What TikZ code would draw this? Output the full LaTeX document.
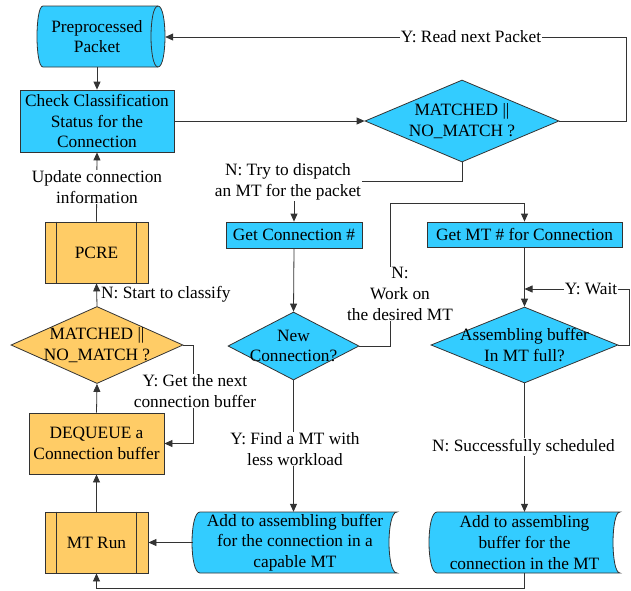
\documentclass[tikz,border=0pt]{standalone}
\usepackage{fontspec}
\setmainfont{Liberation Serif}
\usetikzlibrary{arrows.meta,shapes.geometric}
\definecolor{cyanF}{HTML}{33CCFF}
\definecolor{orngF}{HTML}{FFCC66}
\definecolor{lineC}{HTML}{333333}
\begin{document}
\begin{tikzpicture}[x=1pt,y=-1pt,
  every node/.style={font=\fontsize{17.3}{20.7}\selectfont},
  box/.style={draw=lineC,line width=0.8pt,rectangle,inner sep=0pt,align=center},
  cbox/.style={box,fill=cyanF},
  obox/.style={box,fill=orngF},
  dmd/.style={draw=lineC,line width=0.8pt,diamond,inner sep=0pt},
  shp/.style={draw=lineC,line width=0.8pt},
  ln/.style={draw=lineC,line width=0.8pt},
  arr/.style={draw=lineC,line width=0.8pt,-{Triangle[length=8pt,width=7pt]}},
  lbl/.style={fill=white,inner sep=1pt,align=center},
  plain/.style={inner sep=0pt,align=center}]
\useasboundingbox (0,0) rectangle (631,590);

% cylinder (stored data)
\draw[shp,fill=cyanF] (43,6) -- (158,6) .. controls (167.33,6) and (167.33,67) .. (158,67)
  -- (43,67) .. controls (35,67) and (35,6) .. (43,6) -- cycle;
\draw[ln] (158,6) .. controls (148.67,6) and (148.67,67) .. (158,67);
\node[plain,minimum width=136,minimum height=61] (pp) at (97,36.5) {Preprocessed\\Packet};

% tapes
\draw[shp,fill=cyanF] (200,512) -- (397,512) .. controls (386.33,512) and (386.33,573) .. (397,573)
  -- (200,573) .. controls (189.33,573) and (189.33,512) .. (200,512) -- cycle;
\node[plain,minimum width=204,minimum height=61] (tapeL) at (295,542.5) {Add to assembling buffer\\for the connection in a\\capable MT};
\draw[shp,fill=cyanF] (437,512) -- (620,512) .. controls (610.67,512) and (610.67,573) .. (620,573)
  -- (437,573) .. controls (426.33,573) and (426.33,512) .. (437,512) -- cycle;
\node[plain,minimum width=191,minimum height=61] (tapeR) at (524.5,542.5) {Add to assembling\\buffer for the\\connection in the MT};

% boxes
\node[cbox,minimum width=154,minimum height=62] (check) at (97,121) {Check Classification\\Status for the\\Connection};
\node[obox,minimum width=103,minimum height=61] (pcre) at (96.5,252.5) {PCRE};
\draw[ln] ([xshift=12pt]pcre.north west) -- ([xshift=12pt]pcre.south west);
\draw[ln] ([xshift=-12pt]pcre.north east) -- ([xshift=-12pt]pcre.south east);
\node[obox,minimum width=135,minimum height=61] (deq) at (96.5,443.5) {DEQUEUE a\\Connection buffer};
\node[obox,minimum width=103,minimum height=61] (mtrun) at (96.5,542.5) {MT Run};
\draw[ln] ([xshift=12pt]mtrun.north west) -- ([xshift=12pt]mtrun.south west);
\draw[ln] ([xshift=-12pt]mtrun.north east) -- ([xshift=-12pt]mtrun.south east);
\node[cbox,minimum width=136,minimum height=26] (getconn) at (294,235) {Get Connection \#};
\node[cbox,minimum width=195,minimum height=25] (getmt) at (524.5,234.5) {Get MT \# for Connection};

% diamonds
\node[dmd,fill=cyanF,minimum width=194,minimum height=82,
  label={[plain]center:MATCHED ||\\NO\_MATCH ?}] (dm1) at (462,121) {};
\node[dmd,fill=cyanF,minimum width=131,minimum height=68,
  label={[plain]center:New\\Connection?}] (dm2) at (293.5,346) {};
\node[dmd,fill=cyanF,minimum width=187,minimum height=76,
  label={[plain]center:Assembling buffer\\In MT full?}] (dm3) at (524.5,345) {};
\node[dmd,fill=orngF,minimum width=172,minimum height=77,
  label={[plain]center:MATCHED ||\\NO\_MATCH ?}] (dm4) at (97,345) {};

% helper coordinates
\coordinate (c1) at (626,37);
\coordinate (c2) at (294,181.5);
\coordinate (c3) at (390,203);
\coordinate (c4) at (629,289);
\coordinate (w) at (524.5,289);
\coordinate (c7) at (193,443.5);

% connectors
\draw[arr] (check.north |- pp.south) -- (check.north);
\draw[arr] (check.east) -- (dm1.west);
\draw[arr] (dm1.east) -| (c1) -- (c1 -| pp.east);
\draw[arr] (dm1.south) |- (c2) -- (getconn.north);
\draw[arr] (getconn.south) -- (dm2.north);
\draw[arr] (dm2.east) -| (c3) -| (getmt.north);
\draw[arr] (getmt.south) -- (dm3.north);
\draw[arr] (dm3.east) -| (c4) -- (w);
\draw[arr] (dm3.south) -- (tapeR.north);
\draw[arr] (dm2.south) -- (dm2.south |- tapeL.north);
\draw[arr] (tapeL.west) -- (mtrun.east);
\draw[arr] (tapeR.south) -- ++(0,15.5) -| (mtrun.south);
\draw[arr] (mtrun.north) -- (deq.south);
\draw[arr] (deq.north) -- (dm4.south);
\draw[arr] (dm4.east) -| (c7) -- (deq.east);
\draw[arr] (dm4.north) -- (pcre.south);
\draw[arr] (pcre.north) -- (check.south);

% labels
\node[lbl] (l1) at (471,37) {Y: Read next Packet};
\node[lbl] (l2) at (288,182) {N: Try to dispatch\\an MT for the packet};
\node[lbl] (l3) at (400,294) {N:\\Work on\\the desired MT};
\node[lbl] (l4) at (591,289) {Y: Wait};
\node[lbl] (l5) at (523.5,447) {N: Successfully scheduled};
\node[lbl] (l6) at (295,449) {Y: Find a MT with\\less workload};
\node[lbl] (l7) at (195,391) {Y: Get the next\\connection buffer};
\node[lbl] (l8) at (97,187) {Update connection\\information};
\node[plain,anchor=west] (l9) at (101,294) {N: Start to classify};
\end{tikzpicture}
\end{document}
